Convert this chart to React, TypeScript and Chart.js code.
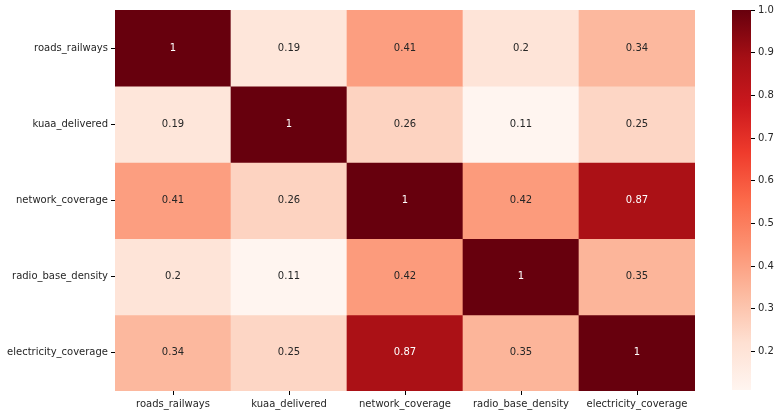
import React, { useEffect, useRef } from "react";
import { Chart, registerables } from "chart.js";

Chart.register(...registerables);

const columns = ["roads_railways", "kuaa_delivered", "network_coverage", "radio_base_density", "electricity_coverage"];
const rows = ["roads_railways", "kuaa_delivered", "network_coverage", "radio_base_density", "electricity_coverage"];

const row0 = [1, 0.19, 0.41, 0.2, 0.34];
const row1 = [0.19, 1, 0.26, 0.11, 0.25];
const row2 = [0.41, 0.26, 1, 0.42, 0.87];
const row3 = [0.2, 0.11, 0.42, 1, 0.35];
const row4 = [0.34, 0.25, 0.87, 0.35, 1];
const matrix = [row0, row1, row2, row3, row4];

const vMin = 0.11;
const vMax = 1.0;
const colorbarTicks = [0.2, 0.3, 0.4, 0.5, 0.6, 0.7, 0.8, 0.9, 1.0];

const reds = ["#fff5f0", "#fee0d2", "#fcbba1", "#fc9272", "#fb6a4a", "#ef3b2c", "#cb181d", "#a50f15", "#67000d"];

const FONT = "'DejaVu Sans', sans-serif";

function hexToRgb(h: string) {
  return [parseInt(h.slice(1, 3), 16), parseInt(h.slice(3, 5), 16), parseInt(h.slice(5, 7), 16)];
}

function cmap(t: number): number[] {
  const x = Math.max(0, Math.min(1, t)) * (reds.length - 1);
  const i = Math.min(reds.length - 2, Math.floor(x));
  const f = x - i;
  const a = hexToRgb(reds[i]);
  const b = hexToRgb(reds[i + 1]);
  return [0, 1, 2].map((k) => Math.round(a[k] + (b[k] - a[k]) * f));
}

function colorFor(v: number) {
  const c = cmap((v - vMin) / (vMax - vMin));
  return `rgb(${c[0]},${c[1]},${c[2]})`;
}

function luminance(v: number) {
  const c = cmap((v - vMin) / (vMax - vMin)).map((x) => {
    const s = x / 255;
    return s <= 0.03928 ? s / 12.92 : Math.pow((s + 0.055) / 1.055, 2.4);
  });
  return 0.2126 * c[0] + 0.7152 * c[1] + 0.0722 * c[2];
}

const annotPlugin = {
  id: "annot",
  afterDatasetsDraw(chart: any) {
    const ctx = chart.ctx;
    ctx.save();
    ctx.font = `10px ${FONT}`;
    ctx.textAlign = "center";
    ctx.textBaseline = "middle";
    chart.data.datasets.forEach((ds: any, di: number) => {
      const meta = chart.getDatasetMeta(di);
      meta.data.forEach((el: any, ci: number) => {
        const v = matrix[di][ci];
        ctx.fillStyle = luminance(v) > 0.408 ? "#262626" : "#ffffff";
        ctx.fillText(String(v), el.x, (el.y + el.base) / 2);
      });
    });
    ctx.restore();
  },
};

export default function App() {
  const mainRef = useRef<HTMLCanvasElement>(null);
  const barRef = useRef<HTMLCanvasElement>(null);

  useEffect(() => {
    const main = new Chart(mainRef.current!, {
      type: "bar",
      data: {
        labels: columns,
        datasets: matrix.map((r, i) => ({
          label: rows[i],
          data: r.map(() => 1),
          backgroundColor: r.map((v) => colorFor(v)),
          borderWidth: 0,
          barPercentage: 1,
          categoryPercentage: 1,
        })),
      },
      options: {
        animation: false,
        responsive: false,
        layout: { padding: { top: 10, right: 5, left: 0, bottom: 0 } },
        plugins: { legend: { display: false }, tooltip: { enabled: false } },
        scales: {
          x: {
            stacked: true,
            grid: { display: true, drawOnChartArea: false, offset: false, tickLength: 4, color: "#000" },
            border: { display: false },
            ticks: { color: "#262626", font: { family: FONT, size: 10 }, padding: 3, maxRotation: 0, autoSkip: false },
            afterFit: (s: any) => { s.height = 25; },
          },
          y: {
            stacked: true,
            min: 0,
            max: 5,
            reverse: true,
            grid: { display: true, drawOnChartArea: false, tickLength: 4, color: "#000" },
            border: { display: false },
            afterBuildTicks: (s: any) => { s.ticks = rows.map((_, i) => ({ value: i + 0.5 })); },
            ticks: {
              color: "#262626",
              font: { family: FONT, size: 10 },
              padding: 3,
              autoSkip: false,
              callback: (v: any) => rows[Math.round(Number(v) - 0.5)],
            },
            afterFit: (s: any) => { s.width = 115; },
          },
        },
      },
      plugins: [annotPlugin],
    });

    const bar = new Chart(barRef.current!, {
      type: "bar",
      data: {
        labels: ["cb"],
        datasets: [
          {
            data: [[vMin, vMax]] as any,
            borderWidth: 0,
            barPercentage: 1,
            categoryPercentage: 1,
            backgroundColor: (ctx: any) => {
              const area = ctx.chart.chartArea;
              if (!area) return reds[4];
              const g = ctx.chart.ctx.createLinearGradient(0, area.bottom, 0, area.top);
              reds.forEach((c, i) => g.addColorStop(i / (reds.length - 1), c));
              return g;
            },
          },
        ],
      },
      options: {
        animation: false,
        responsive: false,
        layout: { padding: { top: 10, bottom: 26, left: 32, right: 0 } },
        plugins: { legend: { display: false }, tooltip: { enabled: false } },
        scales: {
          x: { display: false },
          y: {
            position: "right",
            min: vMin,
            max: vMax,
            grid: { display: true, drawOnChartArea: false, tickLength: 4, color: "#000" },
            border: { display: false },
            afterBuildTicks: (s: any) => { s.ticks = colorbarTicks.map((v) => ({ value: v })); },
            ticks: {
              color: "#262626",
              font: { family: FONT, size: 10 },
              padding: 3,
              callback: (v: any) => Number(v).toFixed(1),
            },
            afterFit: (s: any) => { s.width = 29; },
          },
        },
      },
    });

    return () => {
      main.destroy();
      bar.destroy();
    };
  }, []);

  return (
    <div style={{ position: "fixed", left: 0, top: 0, width: 780, height: 416, background: "#fff" }}>
      <canvas ref={mainRef} width={700} height={416} style={{ position: "absolute", left: 0, top: 0 }} />
      <canvas ref={barRef} width={80} height={416} style={{ position: "absolute", left: 700, top: 0 }} />
    </div>
  );
}
